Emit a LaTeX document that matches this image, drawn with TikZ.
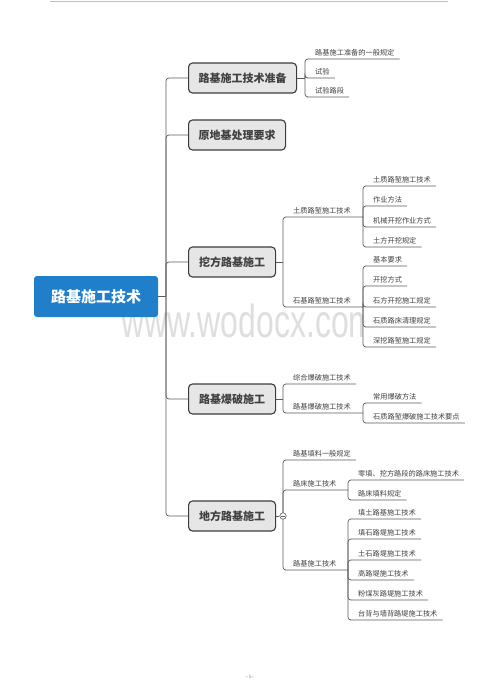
\documentclass[tikz,border=0pt]{standalone}
\usepackage{fontspec}
\newfontfamily\cjk{Noto Sans CJK SC}
\newfontfamily\wmfont{Liberation Sans}
\usepackage{tikz}
\definecolor{rootblue}{HTML}{1F7FCB}
\definecolor{topicfill}{HTML}{E6E6E6}
\definecolor{topicedge}{HTML}{3C3C3C}
\definecolor{linegray}{HTML}{5A5A5A}
\definecolor{textgray}{HTML}{404040}
\definecolor{wmgray}{HTML}{DEDEDE}

\begin{document}
\begin{tikzpicture}[x=1pt,y=-1pt,
        root/.style={fill=rootblue,rounded corners=3pt,minimum width=124pt,minimum height=41pt,
            text=white,font=\cjk\bfseries\fontsize{15}{17}\selectfont},
        topic/.style={draw=topicedge,fill=topicfill,rounded corners=4pt,line width=1.1pt,anchor=west,
            minimum width=87pt,minimum height=30pt,inner xsep=10pt,text=textgray,
            font=\cjk\bfseries\fontsize{11}{13}\selectfont},
        leaf/.style={anchor=south west,inner xsep=5pt,inner ysep=3pt,text=textgray,
            font=\cjk\fontsize{7.2}{8}\selectfont},
        branch/.style={draw=linegray,line width=0.7pt,rounded corners=3pt}]
    \useasboundingbox (0,0) rectangle (500,700);
    %\draw[red] (0,0) rectangle (500,700);
    \draw[line width=0.8pt,draw=black!25] (50,1.3)--(448,1.3);
    \begin{scope}
        \clip (100,290) rectangle (363,350);
        \node[anchor=base west,inner sep=0pt,yscale=1.45,text=wmgray,
            font=\wmfont\fontsize{32}{34}\selectfont] (mark) at (121,337) {www.wodocx.com};
    \end{scope}

    % root and main topics
    \node[root] (root) at (96,296.5) {路基施工技术};
    \node[topic] (t1) at (188,78) {路基施工技术准备};
    \node[topic] (t2) at (188,135) {原地基处理要求};
    \node[topic] (t3) at (188,262) {挖方路基施工};
    \node[topic] (t4) at (188,399) {路基爆破施工};
    \node[topic] (t5) at (188,516) {地方路基施工};
    \coordinate (sp) at (166,296.5);
    \draw[branch] (root.east)--(sp);
    \foreach \t in {t1,t2,t3,t4,t5}
        \draw[branch] (sp) |- (\t.west);

    % junctions
    \coordinate (j1) at (305,78);
    \coordinate (j3) at (283,262);
    \coordinate (j4) at (283,399);
    \coordinate (j5) at (283,516);
    \coordinate (k3) at (363,217);
    \coordinate (k3b) at (363,307);
    \coordinate (k4) at (363,413);
    \coordinate (k5) at (348,490);
    \coordinate (k5b) at (348,570);

    % 1
    \draw[branch] (t1.east)--(j1);
    \foreach \n/\y/\s in {a1/59/路基施工准备的一般规定,a2/78/试验,a3/97/试验路段}{
        \node[leaf] (\n) at (310,\y) {\s};
        \draw[branch] (j1) |- (\n.south west)--(\n.south east);
    }

    % 3
    \draw[branch] (t3.east)--(j3);
    \node[leaf] (m1) at (288,217) {土质路堑施工技术};
    \node[leaf] (m2) at (288,307) {石基路堑施工技术};
    \draw[branch] (j3) |- (m1.south west)--(k3);
    \draw[branch] (j3) |- (m2.south west)--(k3b);
    \foreach \n/\y/\s in {b1/186/土质路堑施工技术,b2/206/作业方法,b3/227/机械开挖作业方式,b4/247/土方开挖规定}{
        \node[leaf] (\n) at (368,\y) {\s};
        \draw[branch] (k3) |- (\n.south west)--(\n.south east);
    }
    \foreach \n/\y/\s in {c1/266/基本要求,c2/286/开挖方式,c3/307/石方开挖施工规定,c4/327/石质路床清理规定,c5/347/深挖路堑施工规定}{
        \node[leaf] (\n) at (368,\y) {\s};
        \draw[branch] (k3b) |- (\n.south west)--(\n.south east);
    }

    % 4
    \draw[branch] (t4.east)--(j4);
    \node[leaf] (d1) at (288,384) {综合爆破施工技术};
    \node[leaf] (d2) at (288,413) {路基爆破施工技术};
    \draw[branch] (j4) |- (d1.south west)--(d1.south east);
    \draw[branch] (j4) |- (d2.south west)--(k4);
    \foreach \n/\y/\s in {e1/403/常用爆破方法,e2/423/石质路堑爆破施工技术要点}{
        \node[leaf] (\n) at (368,\y) {\s};
        \draw[branch] (k4) |- (\n.south west)--(\n.south east);
    }

    % 5
    \node[leaf] (f1) at (288,460) {路基填料一般规定};
    \node[leaf] (f2) at (288,490) {路床施工技术};
    \node[leaf] (f3) at (288,570) {路基施工技术};
    \draw[branch] (j5) |- (f1.south west)--(f1.south east);
    \draw[branch] (j5) |- (f2.south west)--(k5);
    \draw[branch] (j5) |- (f3.south west)--(k5b);
    \foreach \n/\y/\s in {g1/480/零填、挖方路段的路床施工技术,g2/500/路床填料规定}{
        \node[leaf] (\n) at (353,\y) {\s};
        \draw[branch] (k5) |- (\n.south west)--(\n.south east);
    }
    \foreach \n/\y/\s in {h1/519/填土路基施工技术,h2/539/填石路堤施工技术,h3/560/土石路堤施工技术,
            h4/580/高路堤施工技术,h5/600/粉煤灰路堤施工技术,h6/620/台背与墙背路堤施工技术}{
        \node[leaf] (\n) at (353,\y) {\s};
        \draw[branch] (k5b) |- (\n.south west)--(\n.south east);
    }
    \node[circle,draw=linegray,fill=white,line width=0.6pt,inner sep=0pt,minimum size=6.5pt] (fold) at (j5) {};
    \draw[branch] (t5.east)--(fold.west);
    \draw[linegray,line width=0.5pt] ([xshift=-1.8pt]fold.center)--([xshift=1.8pt]fold.center);

    \node[text=black!60,font=\fontsize{5}{6}\selectfont] (pnum) at (250,677) {-1-};
\end{tikzpicture}
\end{document}
